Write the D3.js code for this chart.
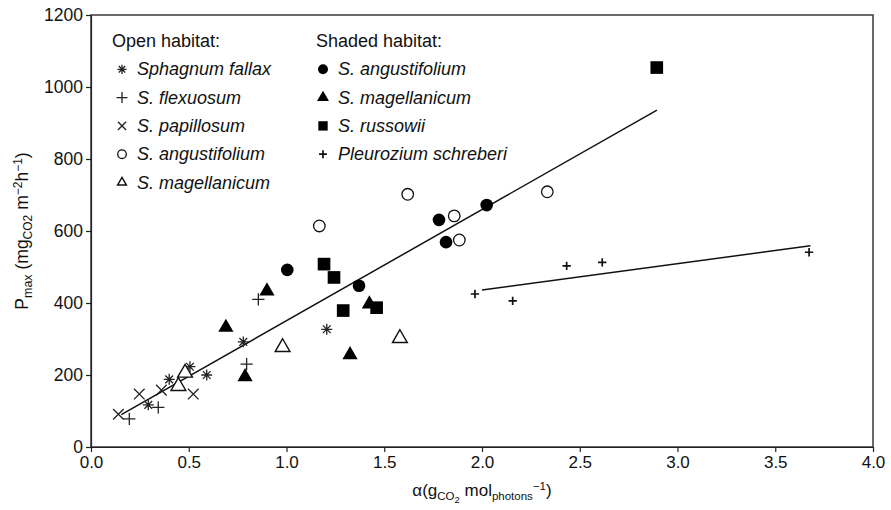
<!DOCTYPE html>
<html><head><meta charset="utf-8">
<script src="https://cdn.jsdelivr.net/npm/d3@7"></script>
<style>
body{margin:0;background:#fff;}
svg text{font-family:"Liberation Sans",Arial,Helvetica,sans-serif;fill:#111;}
</style></head>
<body><svg id="c" width="891" height="510"></svg>
<script>
// ---- data (x = alpha, y = Pmax) ----
const fallaxOpen = [[0.293,117],[0.40,188],[0.506,223],[0.592,200],[0.779,292],[1.206,327]];
const flexuosumOpen = [[0.196,78],[0.344,110],[0.796,230],[0.856,410]];
const papillosumOpen = [[0.14,91],[0.247,147],[0.36,158],[0.523,147]];
const angustifoliumOpen = [[1.168,614],[1.62,702],[1.858,642],[1.884,575],[2.334,709]];
const magellanicumOpen = [[0.447,169],[0.481,206],[0.98,277],[1.58,302]];
const angustifoliumShade = [[1.004,492],[1.371,448],[1.78,631],[1.816,569],[2.024,672]];
const magellanicumShade = [[0.69,332],[0.788,195],[0.90,433],[1.325,256],[1.424,397]];
const russowiiShade = [[1.192,508],[1.243,471],[1.29,379],[1.461,387],[2.894,1054]];
const pleuroziumShade = [[1.964,425],[2.157,406],[2.433,503],[2.615,513],[3.673,541]];
const sphagnumFit = [[0.155,90],[2.895,936]];
const pleuroziumFit = [[2.0,436],[3.68,559]];
const xTicks = [0,0.5,1,1.5,2,2.5,3,3.5,4];
const yTicks = [0,200,400,600,800,1000,1200];
const legendOpenTitle = "Open habitat:";
const legendShadeTitle = "Shaded habitat:";

const svg = d3.select("#c");
const L=91,R=873,T=15,B=447;
const x = d3.scaleLinear().domain([0,4]).range([L,R]);
const y = d3.scaleLinear().domain([0,1200]).range([B,T]);

// custom symbol types
const plusSym = {draw(ctx,size){const r=Math.sqrt(size)/2;ctx.moveTo(-r,0);ctx.lineTo(r,0);ctx.moveTo(0,-r);ctx.lineTo(0,r);}};
const xSym = {draw(ctx,size){const r=Math.sqrt(size)/2*0.75;ctx.moveTo(-r,-r);ctx.lineTo(r,r);ctx.moveTo(-r,r);ctx.lineTo(r,-r);}};
const astSym = {draw(ctx,size){const r=Math.sqrt(size)/2;for(let i=0;i<4;i++){const a=Math.PI/4*i+Math.PI/2;ctx.moveTo(-r*Math.cos(a),-r*Math.sin(a));ctx.lineTo(r*Math.cos(a),r*Math.sin(a));}}};

// frame
svg.append("rect").attr("x",L).attr("y",T).attr("width",R-L).attr("height",B-T)
  .attr("fill","none").attr("stroke","#444").attr("stroke-width",1.6);

// axes
const gx = svg.append("g").attr("transform",`translate(0,${B})`)
  .call(d3.axisBottom(x).tickValues(xTicks).tickFormat(d3.format(".1f")).tickSize(5).tickSizeOuter(0).tickPadding(4));
const gy = svg.append("g").attr("transform",`translate(${L},0)`)
  .call(d3.axisLeft(y).tickValues(yTicks).tickFormat(d3.format("d")).tickSize(5).tickSizeOuter(0).tickPadding(3));
[gx,gy].forEach(g=>{g.selectAll("text").attr("font-size",17).attr("font-family",'"Liberation Sans",Arial,sans-serif').attr("fill","#111");
  g.selectAll("line,path").attr("stroke","#222").attr("stroke-width",1.2);});
gy.selectAll("text").attr("font-size",17.5);

// fit lines
const line = d3.line().x(d=>x(d[0])).y(d=>y(d[1]));
[sphagnumFit,pleuroziumFit].forEach(d=>svg.append("path").attr("d",line(d)).attr("fill","none").attr("stroke","#111").attr("stroke-width",1.5));

const series = [
  {data:fallaxOpen, type:astSym, size:120, fill:"none", stroke:"#222", sw:1.3, name:"Sphagnum fallax", col:0, row:1, ls:0.7},
  {data:flexuosumOpen, type:plusSym, size:150, fill:"none", stroke:"#222", sw:1.3, name:"S. flexuosum", col:0, row:2, ls:0.8},
  {data:papillosumOpen, type:xSym, size:200, fill:"none", stroke:"#222", sw:1.3, name:"S. papillosum", col:0, row:3, ls:0.6},
  {data:angustifoliumOpen, type:d3.symbolCircle, size:105, fill:"#fff", stroke:"#111", sw:1.3, name:"S. angustifolium", col:0, row:4, ls:0.55},
  {data:magellanicumOpen, type:d3.symbolTriangle, size:95, fill:"#fff", stroke:"#111", sw:1.4, name:"S. magellanicum", col:0, row:5, ls:0.36},
  {data:angustifoliumShade, type:d3.symbolCircle, size:125, fill:"#000", stroke:"none", sw:0, name:"S. angustifolium", col:1, row:1, ls:0.62},
  {data:magellanicumShade, type:d3.symbolTriangle, size:100, fill:"#000", stroke:"none", sw:0, name:"S. magellanicum", col:1, row:2, ls:0.62},
  {data:russowiiShade, type:d3.symbolSquare, size:160, fill:"#000", stroke:"none", sw:0, name:"S. russowii", col:1, row:3, ls:0.55},
  {data:pleuroziumShade, type:plusSym, size:70, fill:"none", stroke:"#111", sw:1.7, name:"Pleurozium schreberi", col:1, row:4, ls:0.9}
];

series.forEach(s=>{
  svg.append("g").selectAll("path").data(s.data).join("path")
    .attr("transform",d=>`translate(${x(d[0])},${y(d[1])})`)
    .attr("d",d3.symbol().type(s.type).size(s.size))
    .attr("fill",s.fill).attr("stroke",s.stroke).attr("stroke-width",s.sw);
});

// legend
const lg = svg.append("g");
const colX=[[122,137],[323,338]];
const rowY = r=>47+r*28.3;
lg.append("text").attr("x",112).attr("y",rowY(0)).attr("font-size",18).text(legendOpenTitle);
lg.append("text").attr("x",316).attr("y",rowY(0)).attr("font-size",18).text(legendShadeTitle);
series.forEach(s=>{
  const cx=colX[s.col][0], ty=rowY(s.row);
  lg.append("path").attr("transform",`translate(${cx},${ty-6})`)
    .attr("d",d3.symbol().type(s.type).size(s.size*s.ls))
    .attr("fill",s.fill).attr("stroke",s.stroke).attr("stroke-width",s.sw);
  lg.append("text").attr("x",colX[s.col][1]).attr("y",ty).attr("font-size",18).attr("font-style","italic").text(s.name);
});

// axis titles
const yl = svg.append("text").attr("transform","translate(28,231) rotate(-90)").attr("text-anchor","middle").attr("font-size",17.5);
yl.append("tspan").text("P");
yl.append("tspan").attr("font-size",12.5).attr("dy",4).text("max");
yl.append("tspan").attr("dy",-4).text(" (mg");
yl.append("tspan").attr("font-size",12).attr("dy",4).text("CO2");
yl.append("tspan").attr("dy",-4).text(" m");
yl.append("tspan").attr("font-size",12).attr("dy",-6).text("−2");
yl.append("tspan").attr("dy",6).text("h");
yl.append("tspan").attr("font-size",12).attr("dy",-6).text("−1");
yl.append("tspan").attr("dy",6).text(")");

const xl = svg.append("text").attr("x",482).attr("y",496).attr("text-anchor","middle").attr("font-size",17);
xl.append("tspan").text("α(g");
xl.append("tspan").attr("font-size",11.5).attr("dy",4).text("CO");
xl.append("tspan").attr("font-size",9.5).attr("dy",3).text("2");
xl.append("tspan").attr("dy",-7).text(" mol");
xl.append("tspan").attr("font-size",11.5).attr("dy",4).text("photons");
xl.append("tspan").attr("font-size",11.5).attr("dy",-10).text("−1");
xl.append("tspan").attr("dy",6).text(")");
</script></body></html>
